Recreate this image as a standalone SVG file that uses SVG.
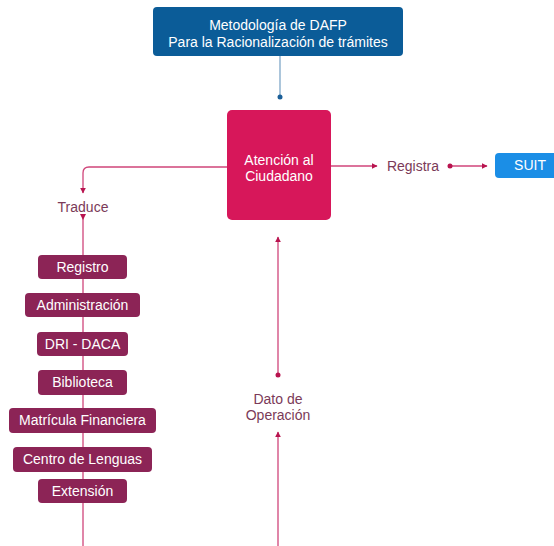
<svg xmlns="http://www.w3.org/2000/svg" width="554" height="546" viewBox="0 0 554 546">
<style>
.lbl{font-family:"Liberation Sans",Arial,sans-serif;font-size:14px;fill:#7b3a58;text-anchor:middle}
.wt{font-family:"Liberation Sans",Arial,sans-serif;font-size:14px;fill:#ffffff;text-anchor:middle}
.item{fill:#8c2456}
.ln{stroke:#d0457a;stroke-width:1.3;fill:none}
.dt{fill:#b8144f}
</style>
<defs>
<marker id="ah" viewBox="0 0 10 10" refX="9" refY="5" markerWidth="6" markerHeight="6" orient="auto" markerUnits="userSpaceOnUse">
<path d="M0,0 L10,5 L0,10 z" fill="#b8144f"/>
</marker>
</defs>
<rect width="554" height="546" fill="#ffffff"/>
<g id="connectors">
<line x1="280" y1="56" x2="280" y2="97" stroke="#7fa7c8" stroke-width="1.3"/>
<circle cx="280" cy="97" r="2.5" fill="#1b5f98"/>
<line class="ln" x1="331" y1="166" x2="377" y2="166" marker-end="url(#ah)"/>
<line class="ln" x1="450" y1="166" x2="487" y2="166" marker-end="url(#ah)"/>
<circle class="dt" cx="450" cy="166" r="2.5"/>
<path class="ln" d="M227,167 H89 Q83,167 83,173 V193" marker-end="url(#ah)"/>
<line class="ln" x1="83" y1="216" x2="83" y2="546"/>
<path d="M80,214 L86,214 L83,220 z" fill="#b8144f"/>
<line class="ln" x1="278" y1="375" x2="278" y2="237" marker-end="url(#ah)"/>
<circle class="dt" cx="278" cy="375" r="2.5"/>
<line class="ln" x1="278" y1="546" x2="278" y2="432" marker-end="url(#ah)"/>
</g>
<g id="dafp">
<rect x="153" y="7" width="250" height="49" rx="4" fill="#0b5c98"/>
<text class="wt" x="278" y="30">Metodología de DAFP</text>
<text class="wt" x="278" y="47">Para la Racionalización de trámites</text>
</g>
<g id="atencion">
<rect x="227" y="110" width="104" height="110" rx="5" fill="#d7175a"/>
<text class="wt" x="279" y="165">Atención al</text>
<text class="wt" x="279" y="181">Ciudadano</text>
</g>
<g id="registra"><text class="lbl" x="413" y="171">Registra</text></g>
<g id="suit">
<rect x="495" y="153" width="66" height="25" rx="4" fill="#1b8ee6"/>
<text class="wt" x="530" y="170">SUIT</text>
</g>
<g id="traduce"><text class="lbl" x="83" y="212">Traduce</text></g>
<g id="dato"><text class="lbl" x="278" y="404">Dato de</text><text class="lbl" x="278" y="420">Operación</text></g>
<g id="registro"><rect class="item" x="38" y="255" width="89" height="24" rx="4"/><text class="wt" x="82.5" y="272">Registro</text></g>
<g id="administracion"><rect class="item" x="25" y="293" width="115" height="24" rx="4"/><text class="wt" x="82.5" y="310">Administración</text></g>
<g id="dri"><rect class="item" x="37" y="332" width="91" height="24" rx="4"/><text class="wt" x="82.5" y="349">DRI - DACA</text></g>
<g id="biblioteca"><rect class="item" x="38" y="370" width="89" height="25" rx="4"/><text class="wt" x="82.5" y="387">Biblioteca</text></g>
<g id="matricula"><rect class="item" x="9" y="408" width="147" height="25" rx="4"/><text class="wt" x="82.5" y="425">Matrícula Financiera</text></g>
<g id="centro"><rect class="item" x="13" y="447" width="139" height="25" rx="4"/><text class="wt" x="82.5" y="464">Centro de Lenguas</text></g>
<g id="extension"><rect class="item" x="38" y="479" width="89" height="24" rx="4"/><text class="wt" x="82.5" y="496">Extensión</text></g>
</svg>
